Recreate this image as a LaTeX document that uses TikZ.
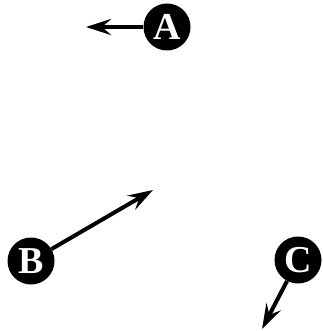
\documentclass[tikz,border=0pt]{standalone}
\usepackage{fontspec}
\setmainfont{Liberation Serif}
\usetikzlibrary{arrows.meta}
\begin{document}
\begin{tikzpicture}[x=1pt,y=-1pt,
  ball/.style={circle,fill=black,text=white,inner sep=0pt,minimum size=47pt,font=\fontsize{38}{38}\selectfont\bfseries},
  vec/.style={line width=4pt,-{Stealth[length=25pt,width=16pt,inset=9pt]}}]
\useasboundingbox (0,0) rectangle (322,331);
\node[ball] (A) at (167,27) {\textbf{A}};
\node[ball] (B) at (31,261) {\textbf{B}};
\node[ball] (C) at (298,260) {\textbf{C}};
\coordinate (a) at (86,27);
\coordinate (b) at (153,190);
\coordinate (c) at (262,329);
\draw[vec] (A) -- (a);
\draw[vec] (B) -- (b);
\draw[vec] (C) -- (c);
\end{tikzpicture}
\end{document}
